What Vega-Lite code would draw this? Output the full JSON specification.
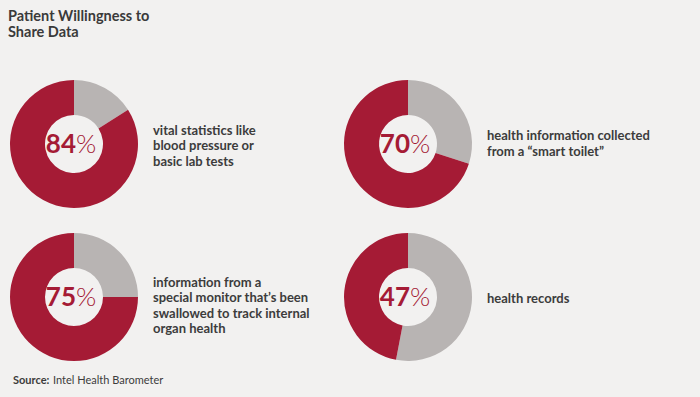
{
  "$schema": "https://vega.github.io/schema/vega-lite/v6.json",
  "width": 700,
  "height": 397,
  "autosize": {"type": "fit", "contains": "padding"},
  "padding": {"left": 8, "top": 8, "right": 0, "bottom": 0},
  "background": "#f2f1f0",
  "config": {"view": {"stroke": null}, "font": "Lato"},
  "title": {
    "text": ["Patient Willingness to", "Share Data"],
    "anchor": "start",
    "frame": "bounds",
    "fontSize": 14.5,
    "lineHeight": 16,
    "fontWeight": "bold",
    "color": "#3a3a3a",
    "font": "Lato",
    "offset": 4
  },
  "datasets": {
    "segs": [
      {"name": "a", "col": "left", "row": "top", "seg": "no", "value": 16},
      {"name": "a", "col": "left", "row": "top", "seg": "yes", "value": 84},
      {"name": "b", "col": "right", "row": "top", "seg": "no", "value": 30},
      {"name": "b", "col": "right", "row": "top", "seg": "yes", "value": 70},
      {"name": "c", "col": "left", "row": "bottom", "seg": "no", "value": 25},
      {"name": "c", "col": "left", "row": "bottom", "seg": "yes", "value": 75},
      {"name": "d", "col": "right", "row": "bottom", "seg": "no", "value": 53},
      {"name": "d", "col": "right", "row": "bottom", "seg": "yes", "value": 47}
    ],
    "items": [
      {"name": "a", "col": "left", "row": "top", "pct": "84", "label": "vital statistics like\nblood pressure or\nbasic lab tests"},
      {"name": "b", "col": "right", "row": "top", "pct": "70", "label": "health information collected\nfrom a “smart toilet”"},
      {"name": "c", "col": "left", "row": "bottom", "pct": "75", "label": "information from a\nspecial monitor that’s been\nswallowed to track internal\norgan health"},
      {"name": "d", "col": "right", "row": "bottom", "pct": "47", "label": "health records"}
    ]
  },
  "encoding": {
    "x": {"field": "col", "type": "nominal", "axis": null,
          "scale": {"type": "point", "padding": 0, "domain": ["left", "right"], "range": [66, 400]}},
    "y": {"field": "row", "type": "nominal", "axis": null,
          "scale": {"type": "point", "padding": 0, "domain": ["top", "bottom"], "range": [100, 253]}}
  },
  "layer": [
    {
      "data": {"name": "segs"},
      "transform": [
        {"stack": "value", "groupby": ["name"], "sort": [{"field": "seg", "order": "ascending"}], "as": ["v0", "v1"]}
      ],
      "mark": {"type": "arc", "outerRadius": 64, "innerRadius": 29},
      "encoding": {
        "theta": {"field": "v0", "type": "quantitative", "scale": {"domain": [0, 100]}},
        "theta2": {"field": "v1"},
        "color": {"field": "seg", "type": "nominal", "legend": null,
                  "scale": {"domain": ["no", "yes"], "range": ["#b8b4b3", "#a51b35"]}}
      }
    },
    {
      "data": {"name": "items"},
      "mark": {"type": "text", "align": "right", "baseline": "middle", "dx": 2, "dy": 1, "fontSize": 26, "fontWeight": "bold", "color": "#a51b35"},
      "encoding": {"text": {"field": "pct", "type": "nominal"}}
    },
    {
      "data": {"name": "items"},
      "mark": {"type": "text", "align": "left", "baseline": "middle", "dx": 2, "dy": 1, "fontSize": 26, "fontWeight": 300, "color": "#a51b35", "text": "%"},
      "encoding": {}
    },
    {
      "data": {"name": "items"},
      "transform": [{"filter": "datum.name === 'a'"}],
      "mark": {"type": "text", "align": "left", "baseline": "middle", "dx": 79, "dy": -13, "fontSize": 13, "fontWeight": "bold", "lineHeight": 15.3, "lineBreak": "\n", "color": "#3c3c3c"},
      "encoding": {"text": {"field": "label", "type": "nominal"}}
    },
    {
      "data": {"name": "items"},
      "transform": [{"filter": "datum.name === 'b'"}],
      "mark": {"type": "text", "align": "left", "baseline": "middle", "dx": 79, "dy": -8, "fontSize": 13, "fontWeight": "bold", "lineHeight": 15.5, "lineBreak": "\n", "color": "#3c3c3c"},
      "encoding": {"text": {"field": "label", "type": "nominal"}}
    },
    {
      "data": {"name": "items"},
      "transform": [{"filter": "datum.name === 'c'"}],
      "mark": {"type": "text", "align": "left", "baseline": "middle", "dx": 79, "dy": -14, "fontSize": 13, "fontWeight": "bold", "lineHeight": 15.3, "lineBreak": "\n", "color": "#3c3c3c"},
      "encoding": {"text": {"field": "label", "type": "nominal"}}
    },
    {
      "data": {"name": "items"},
      "transform": [{"filter": "datum.name === 'd'"}],
      "mark": {"type": "text", "align": "left", "baseline": "middle", "dx": 79, "dy": 2, "fontSize": 13, "fontWeight": "bold", "lineHeight": 15.3, "lineBreak": "\n", "color": "#3c3c3c"},
      "encoding": {"text": {"field": "label", "type": "nominal"}}
    },
    {
      "data": {"values": [{"col": "left", "row": "bottom", "t": "Source:"}]},
      "mark": {"type": "text", "align": "left", "baseline": "middle", "dx": -61, "dy": 84, "fontSize": 11, "fontWeight": "bold", "color": "#3c3c3c"},
      "encoding": {"text": {"field": "t", "type": "nominal"}}
    },
    {
      "data": {"values": [{"col": "left", "row": "bottom", "t": "Intel Health Barometer"}]},
      "mark": {"type": "text", "align": "left", "baseline": "middle", "dx": -21, "dy": 84, "fontSize": 11, "color": "#3c3c3c"},
      "encoding": {"text": {"field": "t", "type": "nominal"}}
    }
  ]
}
